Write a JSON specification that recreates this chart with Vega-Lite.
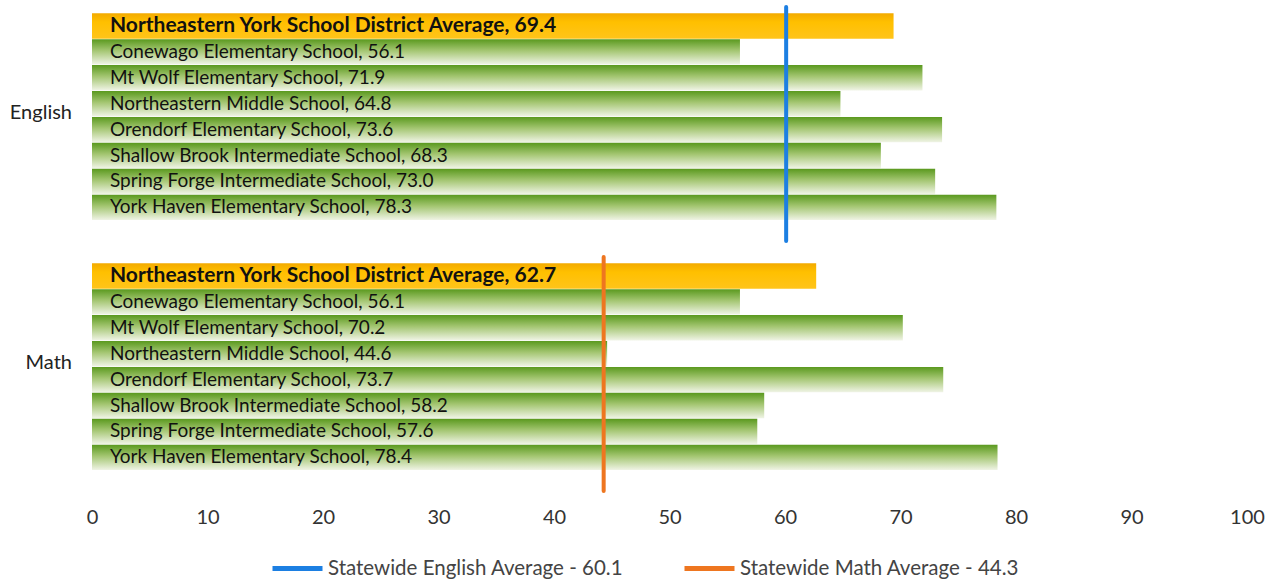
{
  "$schema": "https://vega.github.io/schema/vega-lite/v6.json",
  "background": "white",
  "padding": {"left": 9, "top": 5, "right": 5, "bottom": 5},
  "data": {
    "values": [
      {"subject": "English", "type": "District", "school": "Northeastern York School District Average", "value": 69.4, "label": "Northeastern York School District Average, 69.4"},
      {"subject": "English", "type": "School", "school": "Conewago Elementary School", "value": 56.1, "label": "Conewago Elementary School, 56.1"},
      {"subject": "English", "type": "School", "school": "Mt Wolf Elementary School", "value": 71.9, "label": "Mt Wolf Elementary School, 71.9"},
      {"subject": "English", "type": "School", "school": "Northeastern Middle School", "value": 64.8, "label": "Northeastern Middle School, 64.8"},
      {"subject": "English", "type": "School", "school": "Orendorf Elementary School", "value": 73.6, "label": "Orendorf Elementary School, 73.6"},
      {"subject": "English", "type": "School", "school": "Shallow Brook Intermediate School", "value": 68.3, "label": "Shallow Brook Intermediate School, 68.3"},
      {"subject": "English", "type": "School", "school": "Spring Forge Intermediate School", "value": 73.0, "label": "Spring Forge Intermediate School, 73.0"},
      {"subject": "English", "type": "School", "school": "York Haven Elementary School", "value": 78.3, "label": "York Haven Elementary School, 78.3"},
      {"subject": "Math", "type": "District", "school": "Northeastern York School District Average", "value": 62.7, "label": "Northeastern York School District Average, 62.7"},
      {"subject": "Math", "type": "School", "school": "Conewago Elementary School", "value": 56.1, "label": "Conewago Elementary School, 56.1"},
      {"subject": "Math", "type": "School", "school": "Mt Wolf Elementary School", "value": 70.2, "label": "Mt Wolf Elementary School, 70.2"},
      {"subject": "Math", "type": "School", "school": "Northeastern Middle School", "value": 44.6, "label": "Northeastern Middle School, 44.6"},
      {"subject": "Math", "type": "School", "school": "Orendorf Elementary School", "value": 73.7, "label": "Orendorf Elementary School, 73.7"},
      {"subject": "Math", "type": "School", "school": "Shallow Brook Intermediate School", "value": 58.2, "label": "Shallow Brook Intermediate School, 58.2"},
      {"subject": "Math", "type": "School", "school": "Spring Forge Intermediate School", "value": 57.6, "label": "Spring Forge Intermediate School, 57.6"},
      {"subject": "Math", "type": "School", "school": "York Haven Elementary School", "value": 78.4, "label": "York Haven Elementary School, 78.4"},
      {"subject": "English", "type": "State", "value": 60.1, "label": "Statewide English Average - 60.1"},
      {"subject": "Math", "type": "State", "value": 44.3, "label": "Statewide Math Average - 44.3"}
    ]
  },
  "facet": {
    "row": {
      "field": "subject",
      "type": "nominal",
      "title": null,
      "header": {"labels": false, "title": null}
    }
  },
  "spacing": 10,
  "spec": {
    "width": 1155,
    "height": 238,
    "layer": [
      {
        "transform": [{"filter": "datum.type === 'School'"}],
        "mark": {
          "type": "bar",
          "fill": {
            "gradient": "linear", "x1": 0, "y1": 0, "x2": 0, "y2": 1,
            "stops": [
              {"offset": 0, "color": "#5A991E"},
              {"offset": 0.45, "color": "#A4C672"},
              {"offset": 1, "color": "#F0F4E6"}
            ]
          }
        },
        "encoding": {
          "y": {
            "field": "school",
            "type": "nominal",
            "sort": ["Northeastern York School District Average", "Conewago Elementary School", "Mt Wolf Elementary School", "Northeastern Middle School", "Orendorf Elementary School", "Shallow Brook Intermediate School", "Spring Forge Intermediate School", "York Haven Elementary School"],
            "axis": null,
            "scale": {"paddingInner": 0.02, "paddingOuter": 0.6, "align": 0.2}
          },
          "x": {
            "field": "value", "type": "quantitative",
            "scale": {"domain": [0, 100], "nice": false},
            "axis": {
              "values": [0, 10, 20, 30, 40, 50, 60, 70, 80, 90, 100],
              "domain": false, "ticks": false, "grid": false,
              "labelFlush": false, "labelPadding": 12,
              "labelFont": "Lato", "labelFontSize": 20, "labelColor": "#333333",
              "title": null
            }
          }
        }
      },
      {
        "transform": [{"filter": "datum.type === 'District'"}],
        "mark": {
          "type": "bar",
          "fill": {
            "gradient": "linear", "x1": 0, "y1": 0, "x2": 0, "y2": 1,
            "stops": [
              {"offset": 0, "color": "#F3AA00"},
              {"offset": 0.35, "color": "#FFC000"},
              {"offset": 1, "color": "#FFC41A"}
            ]
          }
        },
        "encoding": {
          "y": {
            "field": "school", "type": "nominal",
            "sort": ["Northeastern York School District Average", "Conewago Elementary School", "Mt Wolf Elementary School", "Northeastern Middle School", "Orendorf Elementary School", "Shallow Brook Intermediate School", "Spring Forge Intermediate School", "York Haven Elementary School"]
          },
          "x": {"field": "value", "type": "quantitative"}
        }
      },
      {
        "transform": [{"filter": "datum.type === 'State'"}],
        "mark": {"type": "rule", "strokeWidth": 4, "strokeCap": "round"},
        "encoding": {
          "y": {"value": 0},
          "y2": {"value": 234},
          "x": {"field": "value", "type": "quantitative"},
          "color": {
            "field": "label", "type": "nominal",
            "scale": {
              "domain": ["Statewide English Average - 60.1", "Statewide Math Average - 44.3"],
              "range": ["#1C7FE2", "#EE7620"]
            },
            "legend": {
              "title": null,
              "orient": "none",
              "direction": "horizontal",
              "legendX": 178,
              "legendY": 534,
              "symbolType": "stroke",
              "symbolSize": 2500,
              "symbolStrokeWidth": 5,
              "labelFont": "Lato",
              "labelFontSize": 20.5,
              "labelColor": "#444444",
              "labelOffset": 3,
              "columnPadding": 50,
              "labelLimit": 400
            }
          }
        }
      },
      {
        "transform": [{"filter": "datum.type === 'State'"}],
        "mark": {"type": "text", "align": "right", "baseline": "middle", "dx": -20, "dy": -13, "font": "Lato", "fontSize": 20, "color": "#222222"},
        "encoding": {
          "x": {"datum": 0, "type": "quantitative"},
          "text": {"field": "subject"}
        }
      },
      {
        "transform": [{"filter": "datum.type === 'School'"}],
        "mark": {"type": "text", "align": "left", "baseline": "middle", "dx": 18, "font": "Lato", "fontSize": 19, "color": "#111111"},
        "encoding": {
          "y": {
            "field": "school", "type": "nominal",
            "sort": ["Northeastern York School District Average", "Conewago Elementary School", "Mt Wolf Elementary School", "Northeastern Middle School", "Orendorf Elementary School", "Shallow Brook Intermediate School", "Spring Forge Intermediate School", "York Haven Elementary School"]
          },
          "x": {"datum": 0, "type": "quantitative"},
          "text": {"field": "label"}
        }
      },
      {
        "transform": [{"filter": "datum.type === 'District'"}],
        "mark": {"type": "text", "align": "left", "baseline": "middle", "dx": 18, "font": "Lato", "fontSize": 21, "fontWeight": "bold", "color": "#111111"},
        "encoding": {
          "y": {
            "field": "school", "type": "nominal",
            "sort": ["Northeastern York School District Average", "Conewago Elementary School", "Mt Wolf Elementary School", "Northeastern Middle School", "Orendorf Elementary School", "Shallow Brook Intermediate School", "Spring Forge Intermediate School", "York Haven Elementary School"]
          },
          "x": {"datum": 0, "type": "quantitative"},
          "text": {"field": "label"}
        }
      }
    ]
  },
  "config": {
    "view": {"stroke": null}
  }
}
